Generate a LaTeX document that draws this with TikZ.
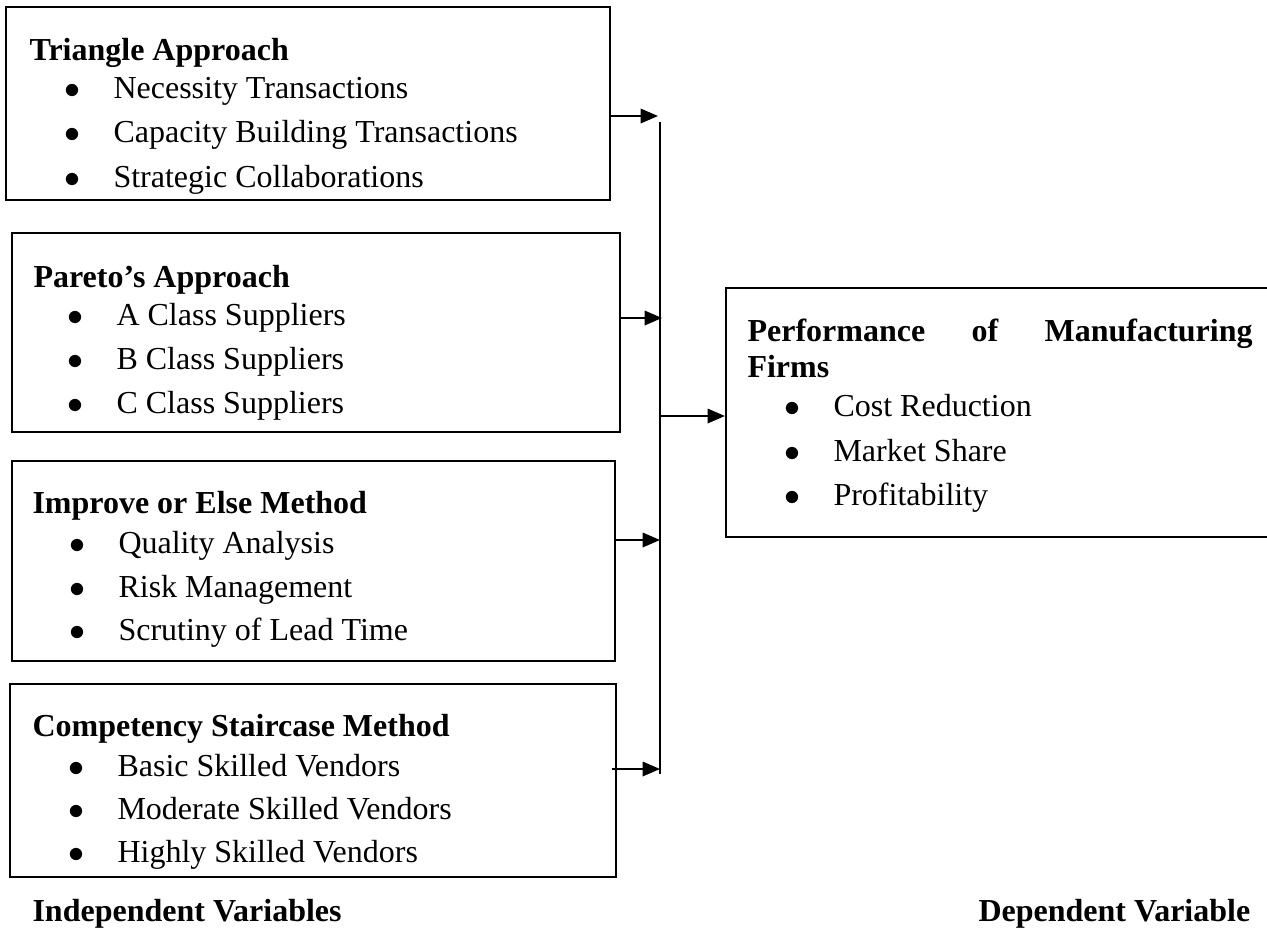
\documentclass[tikz,border=0pt]{standalone}
\usepackage{fontspec}
\setmainfont{Liberation Serif}
\usepackage{tikz}
\usetikzlibrary{arrows.meta,fit}

\newcommand{\blt}{\llap{$\bullet$\hspace{12.4pt}}}

\begin{document}
\begin{tikzpicture}[x=0.375pt,y=0.375pt,yscale=-1,xscale=1,
  varbox/.style={draw, line width=0.8pt, inner sep=0pt},
  txt/.style={anchor=base west, inner sep=0pt, font=\fontsize{12}{14}\selectfont},
  hd/.style={txt, font=\fontsize{12}{14}\selectfont\bfseries},
  feed/.style={line width=0.8pt, -{Triangle[length=6.5pt,width=5.4pt]}}]
\clip (0,0) rectangle (1267,936);

%Shape: Rectangle [tri]
\node[varbox, fit={(6,7) (610,200)}] (tri) {};
%Shape: Rectangle [par]
\node[varbox, fit={(12,233) (620,432)}] (par) {};
%Shape: Rectangle [imp]
\node[varbox, fit={(12,461) (615,661)}] (imp) {};
%Shape: Rectangle [cmp]
\node[varbox, fit={(10,684) (616,877)}] (cmp) {};
%Shape: Rectangle [perf]
\node[varbox, fit={(726,288) (1285,537)}] (perf) {};

% Text Node
\node[hd] (tri-h) at (29,60) {Triangle Approach};
\node[txt] (tri-1) at (113,98) {\blt Necessity Transactions};
\node[txt] (tri-2) at (113,142) {\blt Capacity Building Transactions};
\node[txt] (tri-3) at (113,187) {\blt Strategic Collaborations};
% Text Node
\node[hd] (par-h) at (33,287) {Pareto’s Approach};
\node[txt] (par-1) at (116,325) {\blt A Class Suppliers};
\node[txt] (par-2) at (116,369) {\blt B Class Suppliers};
\node[txt] (par-3) at (116,413) {\blt C Class Suppliers};
% Text Node
\node[hd] (imp-h) at (32,513) {Improve or Else Method};
\node[txt] (imp-1) at (118,553) {\blt Quality Analysis};
\node[txt] (imp-2) at (118,597) {\blt Risk Management};
\node[txt] (imp-3) at (118,640) {\blt Scrutiny of Lead Time};
% Text Node
\node[hd] (cmp-h) at (32,736) {Competency Staircase Method};
\node[txt] (cmp-1) at (117,776) {\blt Basic Skilled Vendors};
\node[txt] (cmp-2) at (117,819) {\blt Moderate Skilled Vendors};
\node[txt] (cmp-3) at (117,862) {\blt Highly Skilled Vendors};
% Text Node
\node[hd] (perf-h) at (747,341) {\makebox[189.4pt][s]{Performance of Manufacturing}};
\node[hd] (perf-h2) at (747,377) {Firms};
\node[txt] (perf-1) at (833,416) {\blt Cost Reduction};
\node[txt] (perf-2) at (833,461) {\blt Market Share};
\node[txt] (perf-3) at (833,505) {\blt Profitability};
% Text Node
\node[hd] (indep) at (32,921) {Independent Variables};
\node[hd] (dep) at (978,921) {Dependent Variable};

%Straight Lines
\coordinate (bus-top) at (660,122);
\coordinate (bus-bot) at (660,774);
\coordinate (in1) at (658,116);
\coordinate (in2) at (662,318);
\coordinate (in3) at (660,540);
\coordinate (in4) at (660,769);
\coordinate (bus-out) at (660,416);
\draw[line width=0.8pt] (bus-top) -- (bus-bot);
\draw[feed] (tri.east |- in1) -- (in1);
\draw[feed] (par.east |- in2) -- (in2);
\draw[feed] (imp.east |- in3) -- (in3);
\draw[feed] ([xshift=-5*0.375pt]cmp.east |- in4) -- (in4);
\draw[feed] (bus-out) -- (perf.west |- bus-out);
\end{tikzpicture}
\end{document}
